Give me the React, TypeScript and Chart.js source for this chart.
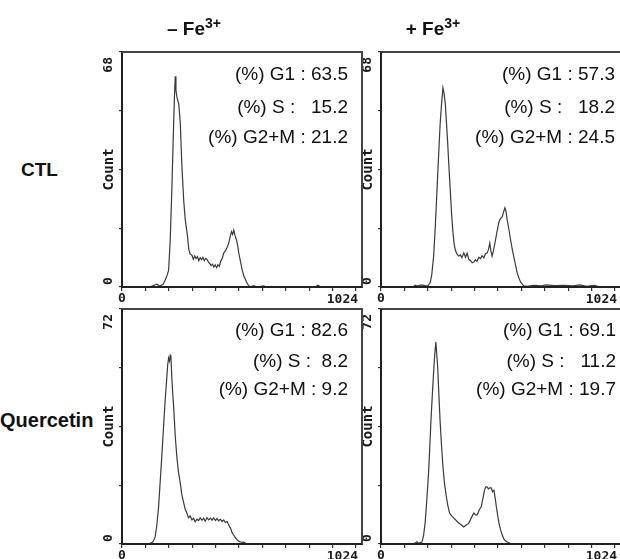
import React, { useEffect, useRef } from "react";
import { Chart, registerables } from "chart.js";

Chart.register(...registerables);

// ---------- data ----------
const COLUMN_TITLES = ["– Fe", "+ Fe"];
const ROW_LABELS = ["CTL", "Quercetin"];

const G1_PCT = ["63.5", "57.3", "82.6", "69.1"];
const S_PCT = ["15.2", "18.2", "8.2", "11.2"];
const G2M_PCT = ["21.2", "24.5", "9.2", "19.7"];

const Y_MAX = [68, 68, 72, 72];
const X_TICKS = [0, 102.4, 204.8, 307.2, 409.6, 512, 614.4, 716.8, 819.2, 921.6, 1024];
const X_LABEL_MIN = 0;
const X_LABEL_MAX = 1024;
const Y_AXIS_TITLE = "Count";

// top-left: CTL, -Fe
const TL_CH = [0, 120, 140, 152, 165, 180, 189, 198, 204, 211, 218, 226, 230, 233, 236, 240, 244, 248, 252, 255, 262, 270, 276, 281, 286, 292, 298, 306, 312, 318, 324, 330, 336, 342, 348, 354, 360, 366, 372, 378, 384, 390, 396, 402, 408, 414, 420, 426, 432, 438, 445, 453, 460, 467, 473, 479, 484, 489, 494, 501, 506, 511, 518, 526, 533, 541, 548, 555, 565, 577, 590, 620, 632, 645, 845, 857, 870, 950, 960, 1024];
const TL_COUNT = [0, 0, 0.5, 0.8, 0.3, 0.8, 2.0, 3.5, 4.9, 13.6, 28, 47.5, 56, 61, 57, 55, 54, 53, 50, 47.5, 35, 25, 20, 17.4, 15, 11, 9.5, 9.2, 8, 9, 8.2, 8.8, 7.6, 8.5, 7.9, 8.6, 7.6, 8.3, 8.0, 7.2, 6.8, 6.2, 6.6, 5.8, 6.4, 5.6, 6.5, 6.0, 7.5, 8.2, 9.8, 10.5, 11.5, 12.7, 14.5, 16.0, 15.2, 16.5, 15.0, 13.6, 12.0, 9.8, 7.5, 4.9, 3.2, 2.0, 1.0, 0.3, 0.1, 0.4, 0, 0.3, 0, 0, 0, 0.5, 0, 0, 0, 0];

// top-right: CTL, +Fe
const TR_CH = [0, 140, 149, 160, 175, 193, 205, 215, 222, 230, 238, 245, 252, 259, 265, 271, 276, 281, 286, 291, 297, 303, 309, 315, 320, 325, 332, 340, 347, 354, 362, 370, 377, 384, 392, 399, 406, 413, 420, 428, 435, 442, 450, 457, 464, 470, 476, 481, 486, 492, 501, 508, 516, 523, 530, 536, 542, 547, 552, 560, 567, 574, 581, 589, 596, 604, 611, 618, 625, 640, 669, 700, 720, 760, 800, 840, 870, 900, 933, 960, 1024];
const TR_COUNT = [0, 0, 0.5, 0.3, 0.6, 0.4, 0.3, 1.2, 3.5, 8.7, 18, 28.1, 38, 47.5, 53, 57.6, 56, 53.2, 48, 42.5, 35, 28.1, 21, 15.6, 12.5, 10.7, 9.6, 8.9, 9.3, 8.5, 9.9, 8.6, 9.8, 8.0, 7.6, 7.0, 7.2, 7.9, 7.4, 8.6, 8.2, 9.0, 8.4, 9.6, 9.8, 10.8, 12.7, 10.4, 8.9, 10.5, 13.6, 16.2, 18.8, 19.8, 20.3, 21.6, 22.9, 21.8, 19.4, 16.5, 13.6, 11.0, 8.7, 6.2, 4.1, 2.5, 1.4, 0.8, 0.3, 0.2, 0.5, 0.3, 0.6, 0.4, 0.5, 0.3, 0.6, 0.2, 0.5, 0, 0];

// bottom-left: Quercetin, -Fe
const BL_CH = [0, 110, 123, 135, 145, 152, 160, 167, 174, 181, 189, 196, 200, 204, 208, 211, 214, 218, 222, 226, 233, 240, 247, 255, 262, 270, 277, 284, 291, 298, 306, 313, 320, 328, 335, 342, 350, 357, 364, 372, 379, 387, 394, 401, 409, 416, 423, 430, 438, 445, 452, 460, 467, 475, 482, 490, 497, 505, 512, 519, 526, 533, 545, 560, 1024];
const BL_COUNT = [0, 0, 0.2, 0.6, 2.1, 5.5, 11.3, 19, 26.7, 35, 44.1, 51, 55, 57, 56, 57.8, 57.3, 51, 46, 42, 33, 26.7, 22, 18.7, 15, 12.6, 10.5, 9.5, 8.0, 8.6, 7.4, 7.9, 6.8, 7.6, 7.2, 8.0, 7.3, 7.9, 7.0, 8.1, 7.4, 7.9, 7.3, 8.0, 7.2, 7.8, 7.1, 7.6, 6.9, 7.4, 6.6, 6.9, 5.8, 4.8, 3.4, 2.6, 1.8, 1.2, 0.8, 0.6, 0.5, 0.6, 0.1, 0, 0];

// bottom-right: Quercetin, +Fe
const BR_CH = [0, 130, 150, 157, 165, 179, 186, 193, 200, 208, 213, 218, 224, 230, 235, 240, 244, 248, 253, 259, 265, 271, 278, 286, 293, 300, 309, 318, 329, 340, 351, 362, 373, 384, 395, 406, 414, 421, 430, 438, 446, 453, 458, 464, 470, 476, 482, 488, 494, 500, 505, 511, 516, 523, 530, 538, 545, 552, 565, 580, 1024];
const BR_COUNT = [0, 0, 0.3, 0.7, 0.2, 0.6, 2.5, 6.4, 13, 21.8, 29, 37.1, 45, 52.4, 58, 61.9, 58, 54.2, 46, 37.1, 30, 23.6, 18.5, 14.4, 11.6, 9.5, 8.6, 8.0, 7.2, 6.4, 5.9, 5.2, 5.8, 6.4, 8.0, 9.5, 8.9, 8.9, 10.5, 11.3, 14.0, 16.5, 17.5, 17.5, 16.9, 17.2, 17.2, 16.0, 16.5, 13.8, 11.3, 8.5, 6.4, 4.4, 2.8, 1.5, 0.9, 0.6, 0.2, 0, 0];

// ---------- layout ----------
const BOXES = [
  { left: 122, top: 52, right: 362, bottom: 287 },
  { left: 381, top: 52, right: 621, bottom: 287 },
  { left: 122, top: 309, right: 362, bottom: 544 },
  { left: 381, top: 309, right: 621, bottom: 544 },
];
const X_AXIS_MAX = 1050;
const Y_AXIS_W = 27;
const PAD_TOP = 12;
const X_AXIS_H = 22;
const PAD_RIGHT = 4;
const ANN_RIGHT = [348, 615, 348, 616];
const ANN_Y = [
  [74, 107, 137],
  [74, 107, 137],
  [330, 361, 389],
  [330, 361, 389],
];

const SERIES = [
  { xs: TL_CH, ys: TL_COUNT },
  { xs: TR_CH, ys: TR_COUNT },
  { xs: BL_CH, ys: BL_COUNT },
  { xs: BR_CH, ys: BR_COUNT },
];

const labelPlugin = {
  id: "axisLabels",
  afterDraw(chart: any) {
    const { ctx, chartArea: a, scales } = chart;
    const yMax = chart.options.scales.y.max;
    ctx.save();
    ctx.fillStyle = "#1a1a1a";
    ctx.font = 'bold 13px "DejaVu Sans Mono", monospace';
    ctx.textBaseline = "middle";
    const x0 = scales.x.getPixelForValue(X_LABEL_MIN);
    const x1 = scales.x.getPixelForValue(X_LABEL_MAX);
    ctx.textAlign = "center";
    ctx.fillText(String(X_LABEL_MIN), x0, a.bottom + 12);
    ctx.textAlign = "right";
    ctx.fillText(String(X_LABEL_MAX), x1 + 2, a.bottom + 13);

    const yTop = scales.y.getPixelForValue(yMax);
    const yBot = scales.y.getPixelForValue(0);
    const lx = a.left - 13;
    const rot = (text: string, y: number, align: string, size: number) => {
      ctx.save();
      ctx.font = "bold " + size + 'px "DejaVu Sans Mono", monospace';
      ctx.translate(lx, y);
      ctx.rotate(-Math.PI / 2);
      ctx.textAlign = align;
      ctx.fillText(text, 0, 0);
      ctx.restore();
    };
    rot(String(yMax), yTop + 5, "right", 13);
    rot("0", yBot - 2, "left", 13);
    rot(Y_AXIS_TITLE, (yTop + yBot) / 2, "center", 14);
    ctx.restore();
  },
};

function makeConfig(i: number): any {
  const s = SERIES[i];
  const yMax = Y_MAX[i];
  const tickGrid = {
    drawOnChartArea: false,
    drawTicks: true,
    tickLength: 4,
    color: "#333",
    lineWidth: 1.2,
  };
  return {
    type: "scatter",
    data: {
      datasets: [
        {
          data: s.xs.map((x, k) => ({ x, y: s.ys[k] })),
          showLine: true,
          borderColor: "#3a3a3a",
          borderWidth: 1.2,
          pointRadius: 0,
          tension: 0,
          clip: false,
        },
      ],
    },
    options: {
      animation: false,
      responsive: false,
      maintainAspectRatio: false,
      events: [],
      layout: { padding: { left: 0, top: PAD_TOP, right: PAD_RIGHT, bottom: 0 } },
      plugins: { legend: { display: false }, tooltip: { enabled: false } },
      scales: {
        x: {
          type: "linear",
          position: "bottom",
          min: 0,
          max: X_AXIS_MAX,
          afterBuildTicks: (sc: any) => {
            sc.ticks = X_TICKS.map((v) => ({ value: v }));
          },
          ticks: { display: false },
          grid: tickGrid,
          border: { display: false },
          afterFit: (sc: any) => {
            sc.height = X_AXIS_H;
          },
        },
        y: {
          type: "linear",
          position: "left",
          min: 0,
          max: yMax,
          ticks: { display: false, stepSize: yMax / 4 },
          grid: { ...tickGrid, tickLength: 3 },
          border: { display: false },
          afterFit: (sc: any) => {
            sc.width = Y_AXIS_W;
          },
        },
      },
    },
    plugins: [labelPlugin],
  };
}

export default function App() {
  const refs = useRef<(HTMLCanvasElement | null)[]>([]);

  useEffect(() => {
    const charts = BOXES.map((_, i) => new Chart(refs.current[i] as HTMLCanvasElement, makeConfig(i)));
    return () => charts.forEach((c) => c.destroy());
  }, []);

  const sans = '"Liberation Sans", Arial, sans-serif';

  return (
    <div
      style={{
        position: "fixed",
        left: 0,
        top: 0,
        width: 620,
        height: 559,
        overflow: "hidden",
        background: "#fff",
        fontFamily: sans,
        color: "#111",
      }}
    >
      {BOXES.map((b, i) => {
        const w = b.right - b.left + Y_AXIS_W + PAD_RIGHT;
        const h = b.bottom - b.top + PAD_TOP + X_AXIS_H;
        return (
          <canvas
            key={"c" + i}
            ref={(el) => {
              refs.current[i] = el;
            }}
            width={w}
            height={h}
            style={{
              position: "absolute",
              left: b.left - Y_AXIS_W,
              top: b.top - PAD_TOP,
              width: w,
              height: h,
            }}
          />
        );
      })}

      {BOXES.map((b, i) => (
        <div
          key={"f" + i}
          style={{
            position: "absolute",
            boxSizing: "border-box",
            left: b.left - 1,
            top: b.top - 1,
            width: b.right - b.left + 2,
            height: b.bottom - b.top + 2,
            borderLeft: "2px solid #202020",
            borderBottom: "2px solid #202020",
            borderTop: "2px solid #444444",
            borderRight: "2px solid #444444",
            pointerEvents: "none",
          }}
        />
      ))}

      {COLUMN_TITLES.map((t, i) => (
        <div
          key={"t" + i}
          style={{
            position: "absolute",
            left: (i === 0 ? 194 : 433) - 100,
            width: 200,
            top: 18,
            textAlign: "center",
            fontSize: 19,
            lineHeight: "22px",
            fontWeight: "bold",
            whiteSpace: "pre",
          }}
        >
          {t}
          <span style={{ fontSize: 14, position: "relative", top: -7 }}>3+</span>
        </div>
      ))}

      {ROW_LABELS.map((t, i) => (
        <div
          key={"r" + i}
          style={{
            position: "absolute",
            left: i === 0 ? 21 : 0,
            top: (i === 0 ? 170 : 420) - 11,
            fontSize: i === 0 ? 19 : 20,
            lineHeight: "22px",
            fontWeight: "bold",
            whiteSpace: "pre",
          }}
        >
          {t}
        </div>
      ))}

      {BOXES.map((_, i) => {
        const sGap = S_PCT[i].length > 3 ? "   " : "  ";
        const lines = [
          "(%) G1 : " + G1_PCT[i],
          "(%) S :" + sGap + S_PCT[i],
          "(%) G2+M : " + G2M_PCT[i],
        ];
        return lines.map((t, k) => (
          <div
            key={"a" + i + "-" + k}
            style={{
              position: "absolute",
              right: 620 - ANN_RIGHT[i],
              top: ANN_Y[i][k] - 11,
              fontSize: 19,
              lineHeight: "22px",
              whiteSpace: "pre",
            }}
          >
            {t}
          </div>
        ));
      })}
    </div>
  );
}
